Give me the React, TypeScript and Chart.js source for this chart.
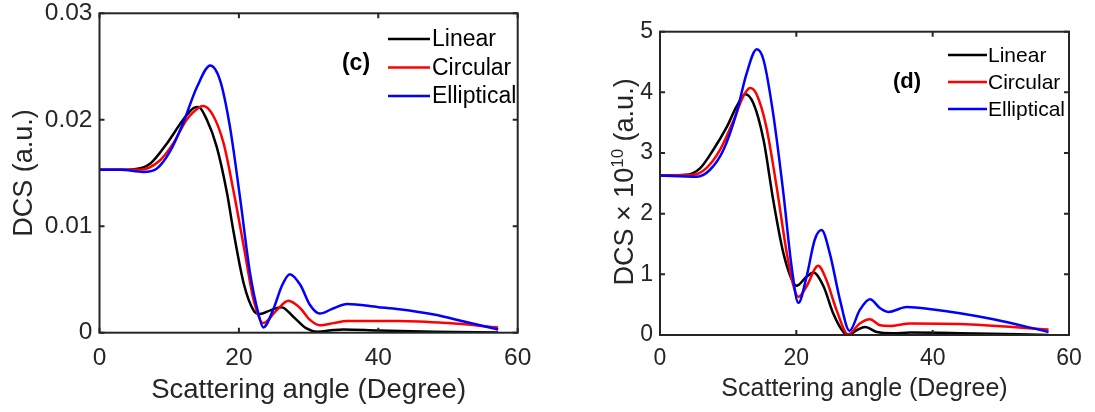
import React, { useEffect, useRef } from 'react';
import { Chart, registerables } from 'chart.js';

Chart.register(...registerables);

const FONT = '"Liberation Sans", Arial, Helvetica, sans-serif';
const AXIS_COLOR = '#262626';

// ---------- shared labels / ticks ----------
const seriesLabels = ['Linear', 'Circular', 'Elliptical'];
const seriesColors = ['#000000', '#ff0000', '#0000ff'];
const xTickValues = [0, 20, 40, 60];
const yTickValuesC = [0, 0.01, 0.02, 0.03];
const yTickValuesD = [0, 1, 2, 3, 4, 5];

// ---------- panel (c) data ----------
const linearAnglesC = [0, 3, 5, 7.3, 9.7, 12, 13.5, 14.2, 15.4, 16.8, 18.3, 19.2, 20.7, 22.1, 23, 24.5, 26.1, 27.8, 29.7, 31.2, 33.6, 35, 40, 48, 57.2];
const linearValuesC = [0.0153, 0.0153, 0.01535, 0.0159, 0.0178, 0.0200, 0.0211, 0.0212, 0.0200, 0.0175, 0.0131, 0.0096, 0.0046, 0.0021, 0.00175, 0.0021, 0.0024, 0.0015, 0.0004, 0.0001, 0.00025, 0.0003, 0.0002, 0.0001, 0.00003];

const circularAnglesC = [0, 3, 5.8, 8.7, 10.6, 12.5, 14.4, 14.9, 16.3, 17.8, 19.2, 20.7, 22.1, 23.5, 25.4, 27.1, 28.8, 30.2, 31.6, 33.6, 35.5, 43, 50, 57.2];
const circularValuesC = [0.0153, 0.0153, 0.0153, 0.0162, 0.0178, 0.0200, 0.0212, 0.0213, 0.0204, 0.0178, 0.0134, 0.0081, 0.0031, 0.0009, 0.0021, 0.0030, 0.0023, 0.0012, 0.0007, 0.0009, 0.0011, 0.0011, 0.0009, 0.0005];

const ellipticalAnglesC = [0, 3, 6.3, 8.2, 10.1, 12, 14, 15.9, 17.3, 18.7, 20.2, 21.6, 22.8, 23.5, 25, 26.1, 27.3, 28.8, 30.2, 31.6, 33.6, 35.5, 40, 43, 48, 52.6, 57.2];
const ellipticalValuesC = [0.0153, 0.0153, 0.0151, 0.0154, 0.0170, 0.0197, 0.0231, 0.0251, 0.0237, 0.0194, 0.0125, 0.0056, 0.0018, 0.0005, 0.0023, 0.0043, 0.0055, 0.0045, 0.0026, 0.0018, 0.0023, 0.0027, 0.0024, 0.0022, 0.0017, 0.0010, 0.0003];

// ---------- panel (d) data (DCS x 1e10) ----------
const linearAnglesD = [0, 3.9, 5.9, 7.8, 9.8, 11.2, 12.5, 13.7, 15.2, 16.6, 18.1, 19.6, 20.0, 21.5, 22.5, 24, 25.4, 26.9, 27.6, 28.9, 30.1, 31.8, 34.2, 36.7, 44, 57];
const linearValuesD = [2.63, 2.64, 2.75, 3.05, 3.43, 3.76, 3.97, 3.82, 3.21, 2.23, 1.35, 0.85, 0.81, 0.96, 1.03, 0.80, 0.36, 0.05, 0.0, 0.08, 0.13, 0.05, 0.03, 0.04, 0.03, 0.0];

const circularAnglesD = [0, 4.9, 6.8, 8.8, 10.8, 12.2, 13.2, 14.2, 15.6, 17.1, 18.6, 19.6, 20.3, 21.5, 23.2, 24.4, 25.9, 27.6, 29.3, 30.8, 32.3, 33.7, 36.7, 44, 57];
const circularValuesD = [2.63, 2.64, 2.75, 3.05, 3.54, 3.93, 4.07, 3.96, 3.43, 2.45, 1.35, 0.80, 0.63, 0.80, 1.14, 0.91, 0.41, 0.01, 0.19, 0.26, 0.16, 0.15, 0.19, 0.18, 0.09];

const ellipticalAnglesD = [0, 5.4, 7.3, 9.3, 11.2, 12.7, 14.2, 15.2, 16.6, 18.1, 19.3, 20.3, 21.5, 22.7, 23.7, 24.9, 26.4, 27.8, 29.3, 30.8, 32.3, 33.5, 36.2, 40.1, 44, 48.9, 57];
const ellipticalValuesD = [2.63, 2.61, 2.72, 3.05, 3.65, 4.31, 4.71, 4.53, 3.65, 2.34, 1.13, 0.53, 0.96, 1.57, 1.73, 1.35, 0.58, 0.07, 0.41, 0.59, 0.44, 0.38, 0.46, 0.42, 0.36, 0.26, 0.05];

type Area = { left: number; right: number; top: number; bottom: number };
type PanelCfg = {
  canvasLeft: number;
  canvasWidth: number;
  area: Area;
  yMax: number;
  yTicks: number[];
  yDecimals: number;
  tickFont: number;
  xTickPad: number;
  yTickPad: number;
  xTitleFont: number;
  xTitlePadBottom: number;
  yTitle: string | null;
  yTitleFont: number;
  yTitlePadTop: number;
  supTitle?: { pre: string; sup: string; post: string; x: number; y: number; size: number; supSize: number; rise: number };
  angles: number[][];
  values: number[][];
  legend: { lineX0: number; lineX1: number; textX: number; y0: number; dy: number; font: number };
  tag: { text: string; x: number; y: number; font: number };
};

const H = 412;

const panelC: PanelCfg = {
  canvasLeft: 0,
  canvasWidth: 550,
  area: { left: 99.5, right: 517.7, top: 13.3, bottom: 332.7 },
  yMax: 0.03,
  yTicks: yTickValuesC,
  yDecimals: 2,
  tickFont: 24.5,
  xTickPad: 11,
  yTickPad: 7,
  xTitleFont: 27.5,
  xTitlePadBottom: 5,
  yTitle: 'DCS (a.u.)',
  yTitleFont: 27,
  yTitlePadTop: 8,
  angles: [linearAnglesC, circularAnglesC, ellipticalAnglesC],
  values: [linearValuesC, circularValuesC, ellipticalValuesC],
  legend: { lineX0: 388, lineX1: 430, textX: 432, y0: 39, dy: 28.5, font: 23 },
  tag: { text: '(c)', x: 356, y: 64, font: 23 },
};

const panelD: PanelCfg = {
  canvasLeft: 550,
  canvasWidth: 545,
  area: { left: 110, right: 519, top: 31.7, bottom: 335 },
  yMax: 5,
  yTicks: yTickValuesD,
  yDecimals: 0,
  tickFont: 23,
  xTickPad: 10,
  yTickPad: 7,
  xTitleFont: 25,
  xTitlePadBottom: 8,
  yTitle: null,
  yTitleFont: 26,
  yTitlePadTop: 0,
  supTitle: { pre: 'DCS \u00d7 10', sup: '10', post: ' (a.u.)', x: 83, y: 182, size: 27, supSize: 17, rise: 10 },
  angles: [linearAnglesD, circularAnglesD, ellipticalAnglesD],
  values: [linearValuesD, circularValuesD, ellipticalValuesD],
  legend: { lineX0: 398, lineX1: 437, textX: 438, y0: 55, dy: 27, font: 21 },
  tag: { text: '(d)', x: 357, y: 82, font: 22 },
};

function buildChart(canvas: HTMLCanvasElement, p: PanelCfg) {
  const datasets = seriesLabels.map((label, i) => ({
    label,
    data: p.angles[i].map((x, k) => ({ x, y: p.values[i][k] })),
    borderColor: seriesColors[i],
    backgroundColor: seriesColors[i],
    borderWidth: 2.5,
    pointRadius: 0,
    fill: false,
    cubicInterpolationMode: 'monotone' as const,
    order: 3 - i,
  }));

  const overlay = {
    id: 'overlay',
    afterDatasetsDraw(chart: any) {
      const { ctx, chartArea: a, scales } = chart;
      ctx.save();
      ctx.strokeStyle = AXIS_COLOR;
      ctx.lineWidth = 2;
      ctx.strokeRect(a.left, a.top, a.right - a.left, a.bottom - a.top);
      const L = 5;
      ctx.beginPath();
      scales.x.ticks.forEach((t: any) => {
        const px = scales.x.getPixelForValue(t.value);
        ctx.moveTo(px, a.bottom);
        ctx.lineTo(px, a.bottom - L);
        ctx.moveTo(px, a.top);
        ctx.lineTo(px, a.top + L);
      });
      scales.y.ticks.forEach((t: any) => {
        const py = scales.y.getPixelForValue(t.value);
        ctx.moveTo(a.left, py);
        ctx.lineTo(a.left + L, py);
        ctx.moveTo(a.right, py);
        ctx.lineTo(a.right - L, py);
      });
      ctx.stroke();

      // legend
      const lg = p.legend;
      ctx.font = `${lg.font}px ${FONT}`;
      ctx.textBaseline = 'middle';
      ctx.textAlign = 'left';
      chart.data.datasets.forEach((ds: any, i: number) => {
        const y = lg.y0 + i * lg.dy;
        ctx.strokeStyle = ds.borderColor;
        ctx.lineWidth = 2.5;
        ctx.beginPath();
        ctx.moveTo(lg.lineX0, y);
        ctx.lineTo(lg.lineX1, y);
        ctx.stroke();
        ctx.fillStyle = '#000000';
        ctx.fillText(ds.label, lg.textX, y + 1);
      });

      // panel tag
      ctx.font = `bold ${p.tag.font}px ${FONT}`;
      ctx.textAlign = 'center';
      ctx.fillStyle = '#000000';
      ctx.fillText(p.tag.text, p.tag.x, p.tag.y);

      // superscript y title
      if (p.supTitle) {
        const st = p.supTitle;
        ctx.translate(st.x, st.y);
        ctx.rotate(-Math.PI / 2);
        ctx.fillStyle = AXIS_COLOR;
        ctx.textBaseline = 'alphabetic';
        ctx.textAlign = 'left';
        const mainF = `${st.size}px ${FONT}`;
        const supF = `${st.supSize}px ${FONT}`;
        ctx.font = mainF;
        const w1 = ctx.measureText(st.pre).width;
        const w3 = ctx.measureText(st.post).width;
        ctx.font = supF;
        const w2 = ctx.measureText(st.sup).width;
        let x = -(w1 + w2 + w3) / 2;
        ctx.font = mainF;
        ctx.fillText(st.pre, x, 0);
        x += w1;
        ctx.font = supF;
        ctx.fillText(st.sup, x, -st.rise);
        x += w2;
        ctx.font = mainF;
        ctx.fillText(st.post, x, 0);
      }
      ctx.restore();
    },
  };

  return new Chart(canvas, {
    type: 'line',
    data: { datasets },
    options: {
      animation: false,
      responsive: false,
      maintainAspectRatio: false,
      parsing: true,
      layout: {
        padding: { left: 0, top: p.area.top, right: p.canvasWidth - p.area.right, bottom: 0 },
      },
      plugins: {
        legend: { display: false },
        tooltip: { enabled: false },
        title: { display: false },
      },
      scales: {
        x: {
          type: 'linear',
          min: 0,
          max: 60,
          afterBuildTicks: (s: any) => {
            s.ticks = xTickValues.map((v) => ({ value: v }));
          },
          afterFit: (s: any) => {
            s.height = H - p.area.bottom;
            s.paddingLeft = 0;
            s.paddingRight = 0;
          },
          grid: { display: false, drawTicks: false },
          border: { display: false },
          ticks: {
            autoSkip: false,
            maxRotation: 0,
            minRotation: 0,
            padding: p.xTickPad,
            color: AXIS_COLOR,
            font: { family: FONT, size: p.tickFont },
            callback: (v: any) => String(Math.round(Number(v))),
          },
          title: {
            display: true,
            text: 'Scattering angle (Degree)',
            color: AXIS_COLOR,
            font: { family: FONT, size: p.xTitleFont },
            padding: { top: 0, bottom: p.xTitlePadBottom },
          },
        },
        y: {
          type: 'linear',
          min: 0,
          max: p.yMax,
          afterBuildTicks: (s: any) => {
            s.ticks = p.yTicks.map((v) => ({ value: v }));
          },
          afterFit: (s: any) => {
            s.width = p.area.left;
            s.paddingTop = 0;
            s.paddingBottom = 0;
          },
          grid: { display: false, drawTicks: false },
          border: { display: false },
          ticks: {
            autoSkip: false,
            padding: p.yTickPad,
            color: AXIS_COLOR,
            font: { family: FONT, size: p.tickFont },
            callback: (v: any) => (Number(v) === 0 ? '0' : Number(v).toFixed(p.yDecimals)),
          },
          title: {
            display: !!p.yTitle,
            text: p.yTitle || '',
            color: AXIS_COLOR,
            font: { family: FONT, size: p.yTitleFont },
            padding: { top: p.yTitlePadTop, bottom: 0 },
          },
        },
      },
    },
    plugins: [overlay],
  } as any);
}

export default function App() {
  const refC = useRef<HTMLCanvasElement | null>(null);
  const refD = useRef<HTMLCanvasElement | null>(null);

  useEffect(() => {
    const charts: Chart[] = [];
    if (refC.current) charts.push(buildChart(refC.current, panelC));
    if (refD.current) charts.push(buildChart(refD.current, panelD));
    return () => charts.forEach((c) => c.destroy());
  }, []);

  return (
    <div style={{ position: 'absolute', left: 0, top: 0, width: 1095, height: H, background: '#ffffff', overflow: 'hidden' }}>
      <canvas
        ref={refC}
        width={panelC.canvasWidth}
        height={H}
        style={{ position: 'absolute', left: panelC.canvasLeft, top: 0, width: panelC.canvasWidth, height: H, display: 'block' }}
      />
      <canvas
        ref={refD}
        width={panelD.canvasWidth}
        height={H}
        style={{ position: 'absolute', left: panelD.canvasLeft, top: 0, width: panelD.canvasWidth, height: H, display: 'block' }}
      />
    </div>
  );
}
